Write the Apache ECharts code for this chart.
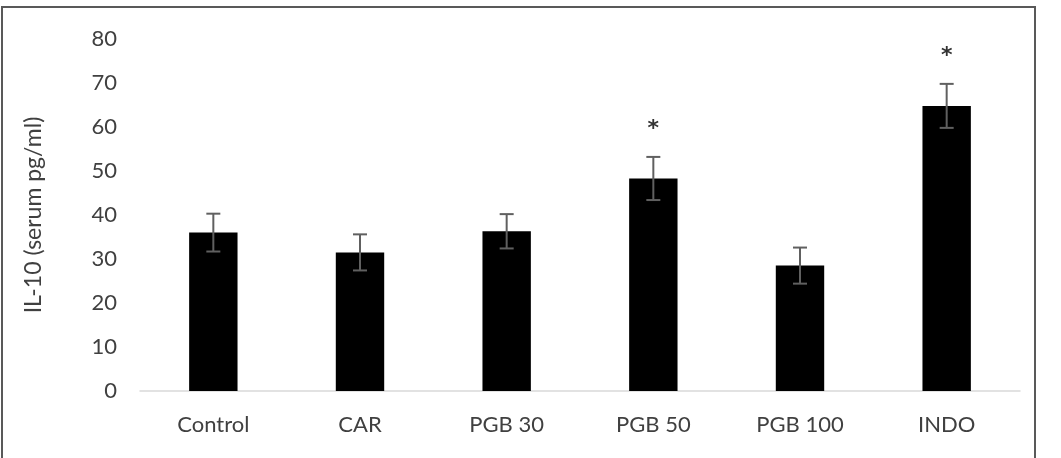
<!DOCTYPE html>
<html>
<head>
<meta charset="utf-8">
<script src="https://cdn.jsdelivr.net/npm/echarts@6/dist/echarts.min.js"></script>
<style>
  html, body { margin: 0; padding: 0; background: #fff; }
  #chart { width: 1061px; height: 458px; }
</style>
</head>
<body>
<div id="chart"></div>
<script>
// groups on the x axis
const groups = ['Control', 'CAR', 'PGB 30', 'PGB 50', 'PGB 100', 'INDO'];
// mean IL-10 per group
const means = [36.0, 31.5, 36.3, 48.3, 28.5, 64.8];
// error bar half length
const errors = [4.3, 4.1, 3.9, 4.9, 4.1, 5.0];
// significance marks
const marks = ['', '', '', '*', '', '*'];
// y ticks
const yTicks = [0, 10, 20, 30, 40, 50, 60, 70, 80];

const textColor = '#404040';
const font = 'Lato, "Open Sans", sans-serif';

const chart = echarts.init(document.getElementById('chart'));

const option = {
  animation: false,
  backgroundColor: '#fff',
  graphic: [
    {
      // frame round the figure
      type: 'rect',
      shape: { x: 2, y: 7, width: 1033, height: 480 },
      style: { fill: 'none', stroke: '#595959', lineWidth: 2 },
      silent: true,
    },
  ],
  grid: { left: 140, right: 41, top: 39, bottom: 67 },
  xAxis: {
    type: 'category',
    data: groups,
    axisLine: { lineStyle: { color: '#d9d9d9', width: 1.5 } },
    axisTick: { show: false },
    axisLabel: { color: textColor, fontSize: 22, fontFamily: font, margin: 23 },
  },
  yAxis: {
    type: 'value',
    min: yTicks[0],
    max: yTicks[yTicks.length - 1],
    interval: 10,
    name: 'IL-10 (serum pg/ml)',
    nameLocation: 'middle',
    nameGap: 95,
    nameTextStyle: { color: textColor, fontSize: 23, fontFamily: font },
    axisLine: { show: false },
    axisTick: { show: false },
    splitLine: { show: false },
    axisLabel: { color: textColor, fontSize: 22, fontFamily: font, margin: 23 },
  },
  series: [
    {
      type: 'bar',
      data: means,
      barWidth: '33%',
      itemStyle: { color: '#000' },
    },
    {
      // error bars and stars
      type: 'custom',
      data: groups.map((g, i) => [i, means[i] - errors[i], means[i] + errors[i]]),
      renderItem: (params, api) => {
        const i = api.value(0);
        const lo = api.coord([i, api.value(1)]);
        const hi = api.coord([i, api.value(2)]);
        const half = 7;
        const style = { stroke: '#606060', lineWidth: 2 };
        const children = [
          { type: 'line', shape: { x1: lo[0], y1: lo[1], x2: hi[0], y2: hi[1] }, style },
          { type: 'line', shape: { x1: lo[0] - half, y1: lo[1], x2: lo[0] + half, y2: lo[1] }, style },
          { type: 'line', shape: { x1: hi[0] - half, y1: hi[1], x2: hi[0] + half, y2: hi[1] }, style },
        ];
        if (marks[i]) {
          children.push({
            type: 'text',
            style: {
              text: marks[i],
              x: hi[0],
              y: hi[1] - 28,
              align: 'center',
              verticalAlign: 'middle',
              fill: '#333',
              font: 'bold 22px "DejaVu Sans", sans-serif',
            },
          });
        }
        return { type: 'group', children };
      },
      z: 3,
    },
  ],
};

chart.setOption(option);
</script>
</body>
</html>
